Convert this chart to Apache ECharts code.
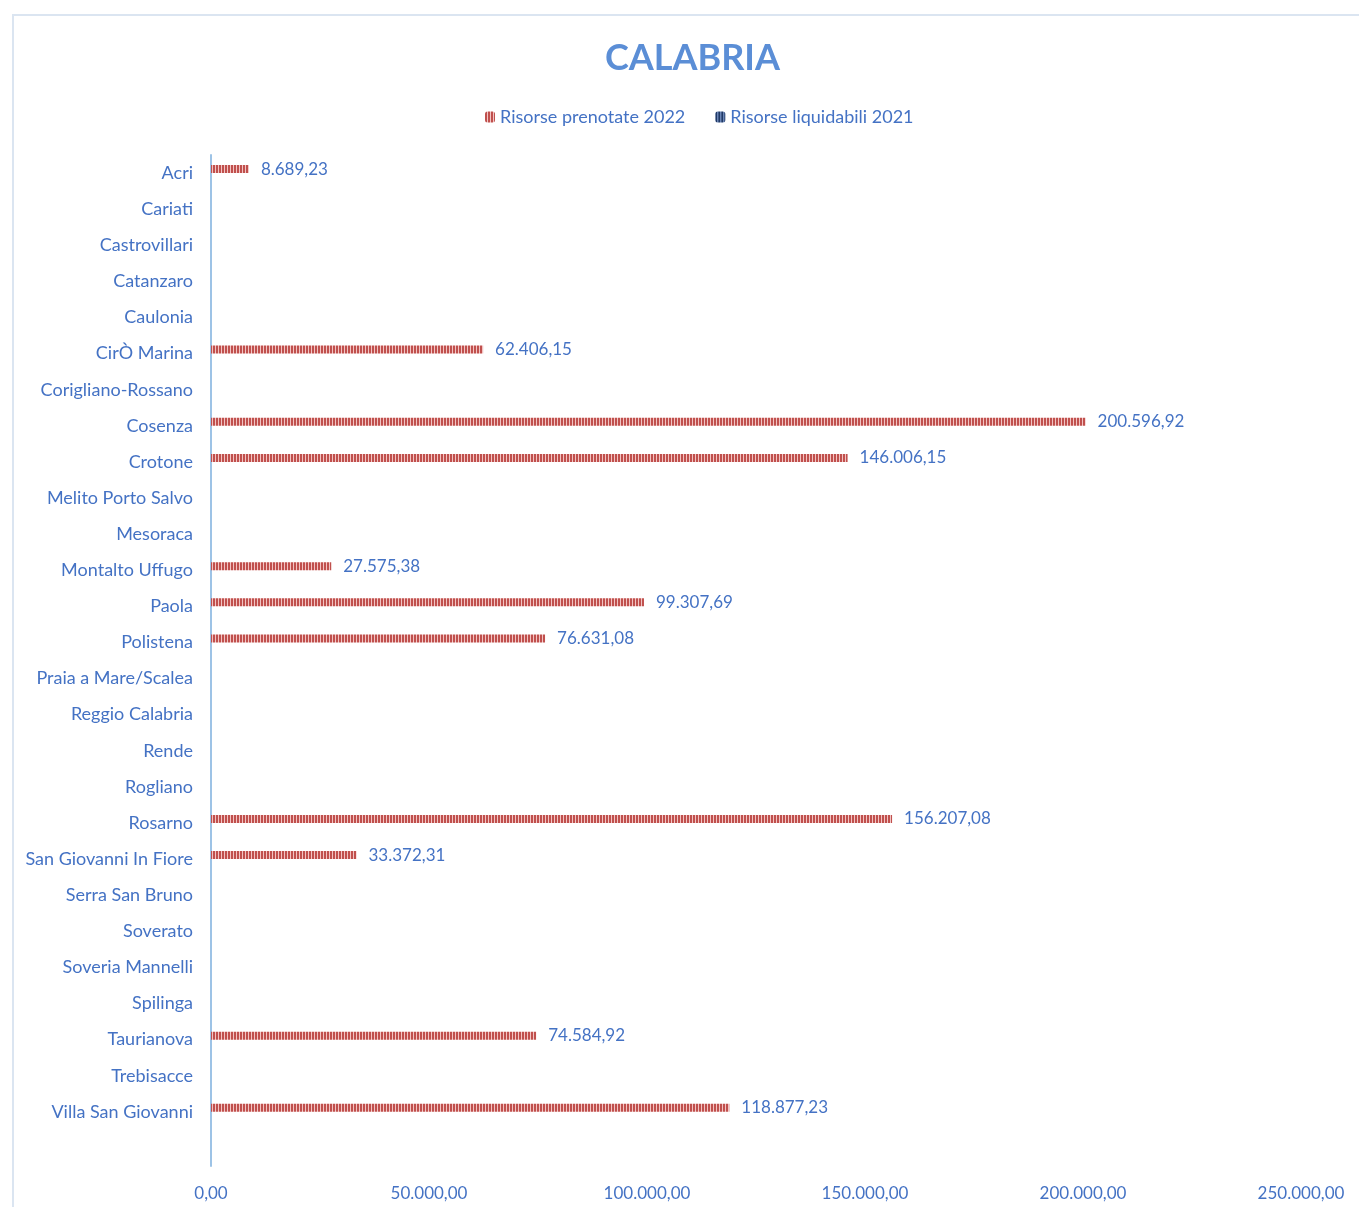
<!DOCTYPE html>
<html lang="it">
<head>
  <meta charset="UTF-8">
  <title>Calabria</title>
  <style>
    html,body{margin:0;padding:0;background:#fff;}
    #main{width:1359px;height:1207px;}
  </style>
</head>
<body>
  <div id="main"></div>
  <script src="https://cdn.jsdelivr.net/npm/echarts@6/dist/echarts.min.js"></script>
  <script>
    const comuni=['Acri','Cariati','Castrovillari','Catanzaro','Caulonia','CirÒ Marina','Corigliano-Rossano',
      'Cosenza','Crotone','Melito Porto Salvo','Mesoraca','Montalto Uffugo','Paola','Polistena',
      'Praia a Mare/Scalea','Reggio Calabria','Rende','Rogliano','Rosarno','San Giovanni In Fiore',
      'Serra San Bruno','Soverato','Soveria Mannelli','Spilinga','Taurianova','Trebisacce','Villa San Giovanni',''];
    const prenotate2022=[8689.23,null,null,null,null,62406.15,null,200596.92,146006.15,null,null,27575.38,
      99307.69,76631.08,null,null,null,null,156207.08,33372.31,null,null,null,null,74584.92,null,118877.23,null];
    const liquidabili2021=[0,0,0,0,0,0,0,0,0,0,0,0,0,0,0,0,0,0,0,0,0,0,0,0,0,0,0,null];

    // numeri in formato italiano: 8.689,23
    function fmt(v){
      const parts=Number(v).toFixed(2).split('.');
      parts[0]=parts[0].replace(/\B(?=(\d{3})+(?!\d))/g,'.');
      return parts.join(',');
    }

    // riempimento a righe verticali, come nel grafico excel
    function stripes(base,light){
      const c=document.createElement('canvas');
      c.width=3;c.height=4;
      const ctx=c.getContext('2d');
      ctx.fillStyle=base;ctx.fillRect(0,0,3,4);
      ctx.fillStyle=light;ctx.fillRect(2,0,1,4);
      return {image:c,repeat:'repeat'};
    }

    const blue='#4472C4';
    const font='Lato';
    const chart=echarts.init(document.getElementById('main'));
    const option={
      textStyle:{fontFamily:font},
      graphic:[{
        type:'rect',
        shape:{x:13,y:15,width:1400,height:1300},
        style:{fill:'none',stroke:'#dbe5f1',lineWidth:2},
        silent:true
      }],
      title:{
        text:'CALABRIA',
        left:600,
        top:35,
        textStyle:{color:'#5B8ED6',fontSize:36,fontWeight:'bold',fontFamily:font}
      },
      legend:{
        top:103,
        left:480,
        itemWidth:10,
        itemHeight:11,
        itemGap:30,
        textStyle:{color:blue,fontSize:18,fontFamily:font},
        data:['Risorse prenotate 2022','Risorse liquidabili 2021']
      },
      grid:{left:211,right:58,top:155,bottom:41,containLabel:false},
      xAxis:{
        type:'value',
        min:0,max:250000,interval:50000,
        axisLine:{show:false},
        axisTick:{show:false},
        splitLine:{show:false},
        axisLabel:{color:blue,fontSize:17,margin:19,formatter:v=>fmt(v)}
      },
      yAxis:{
        type:'category',
        inverse:true,
        data:comuni,
        axisLine:{lineStyle:{color:'#9dc3e6',width:2}},
        axisTick:{show:false},
        axisLabel:{color:blue,fontSize:18,margin:18}
      },
      series:[
        {
          name:'Risorse prenotate 2022',
          type:'bar',
          data:prenotate2022,
          barWidth:8,
          barGap:'0%',
          itemStyle:{color:stripes('#c0504d','#f2c4c3')},
          label:{show:true,position:'right',distance:12,color:blue,fontSize:17,
            formatter:p=>p.value==null?'':fmt(p.value)}
        },
        {
          name:'Risorse liquidabili 2021',
          type:'bar',
          data:liquidabili2021,
          barWidth:8,
          itemStyle:{color:stripes('#1f3864','#8ea9db')}
        }
      ]
    };
    chart.setOption(option);
  </script>
</body>
</html>
